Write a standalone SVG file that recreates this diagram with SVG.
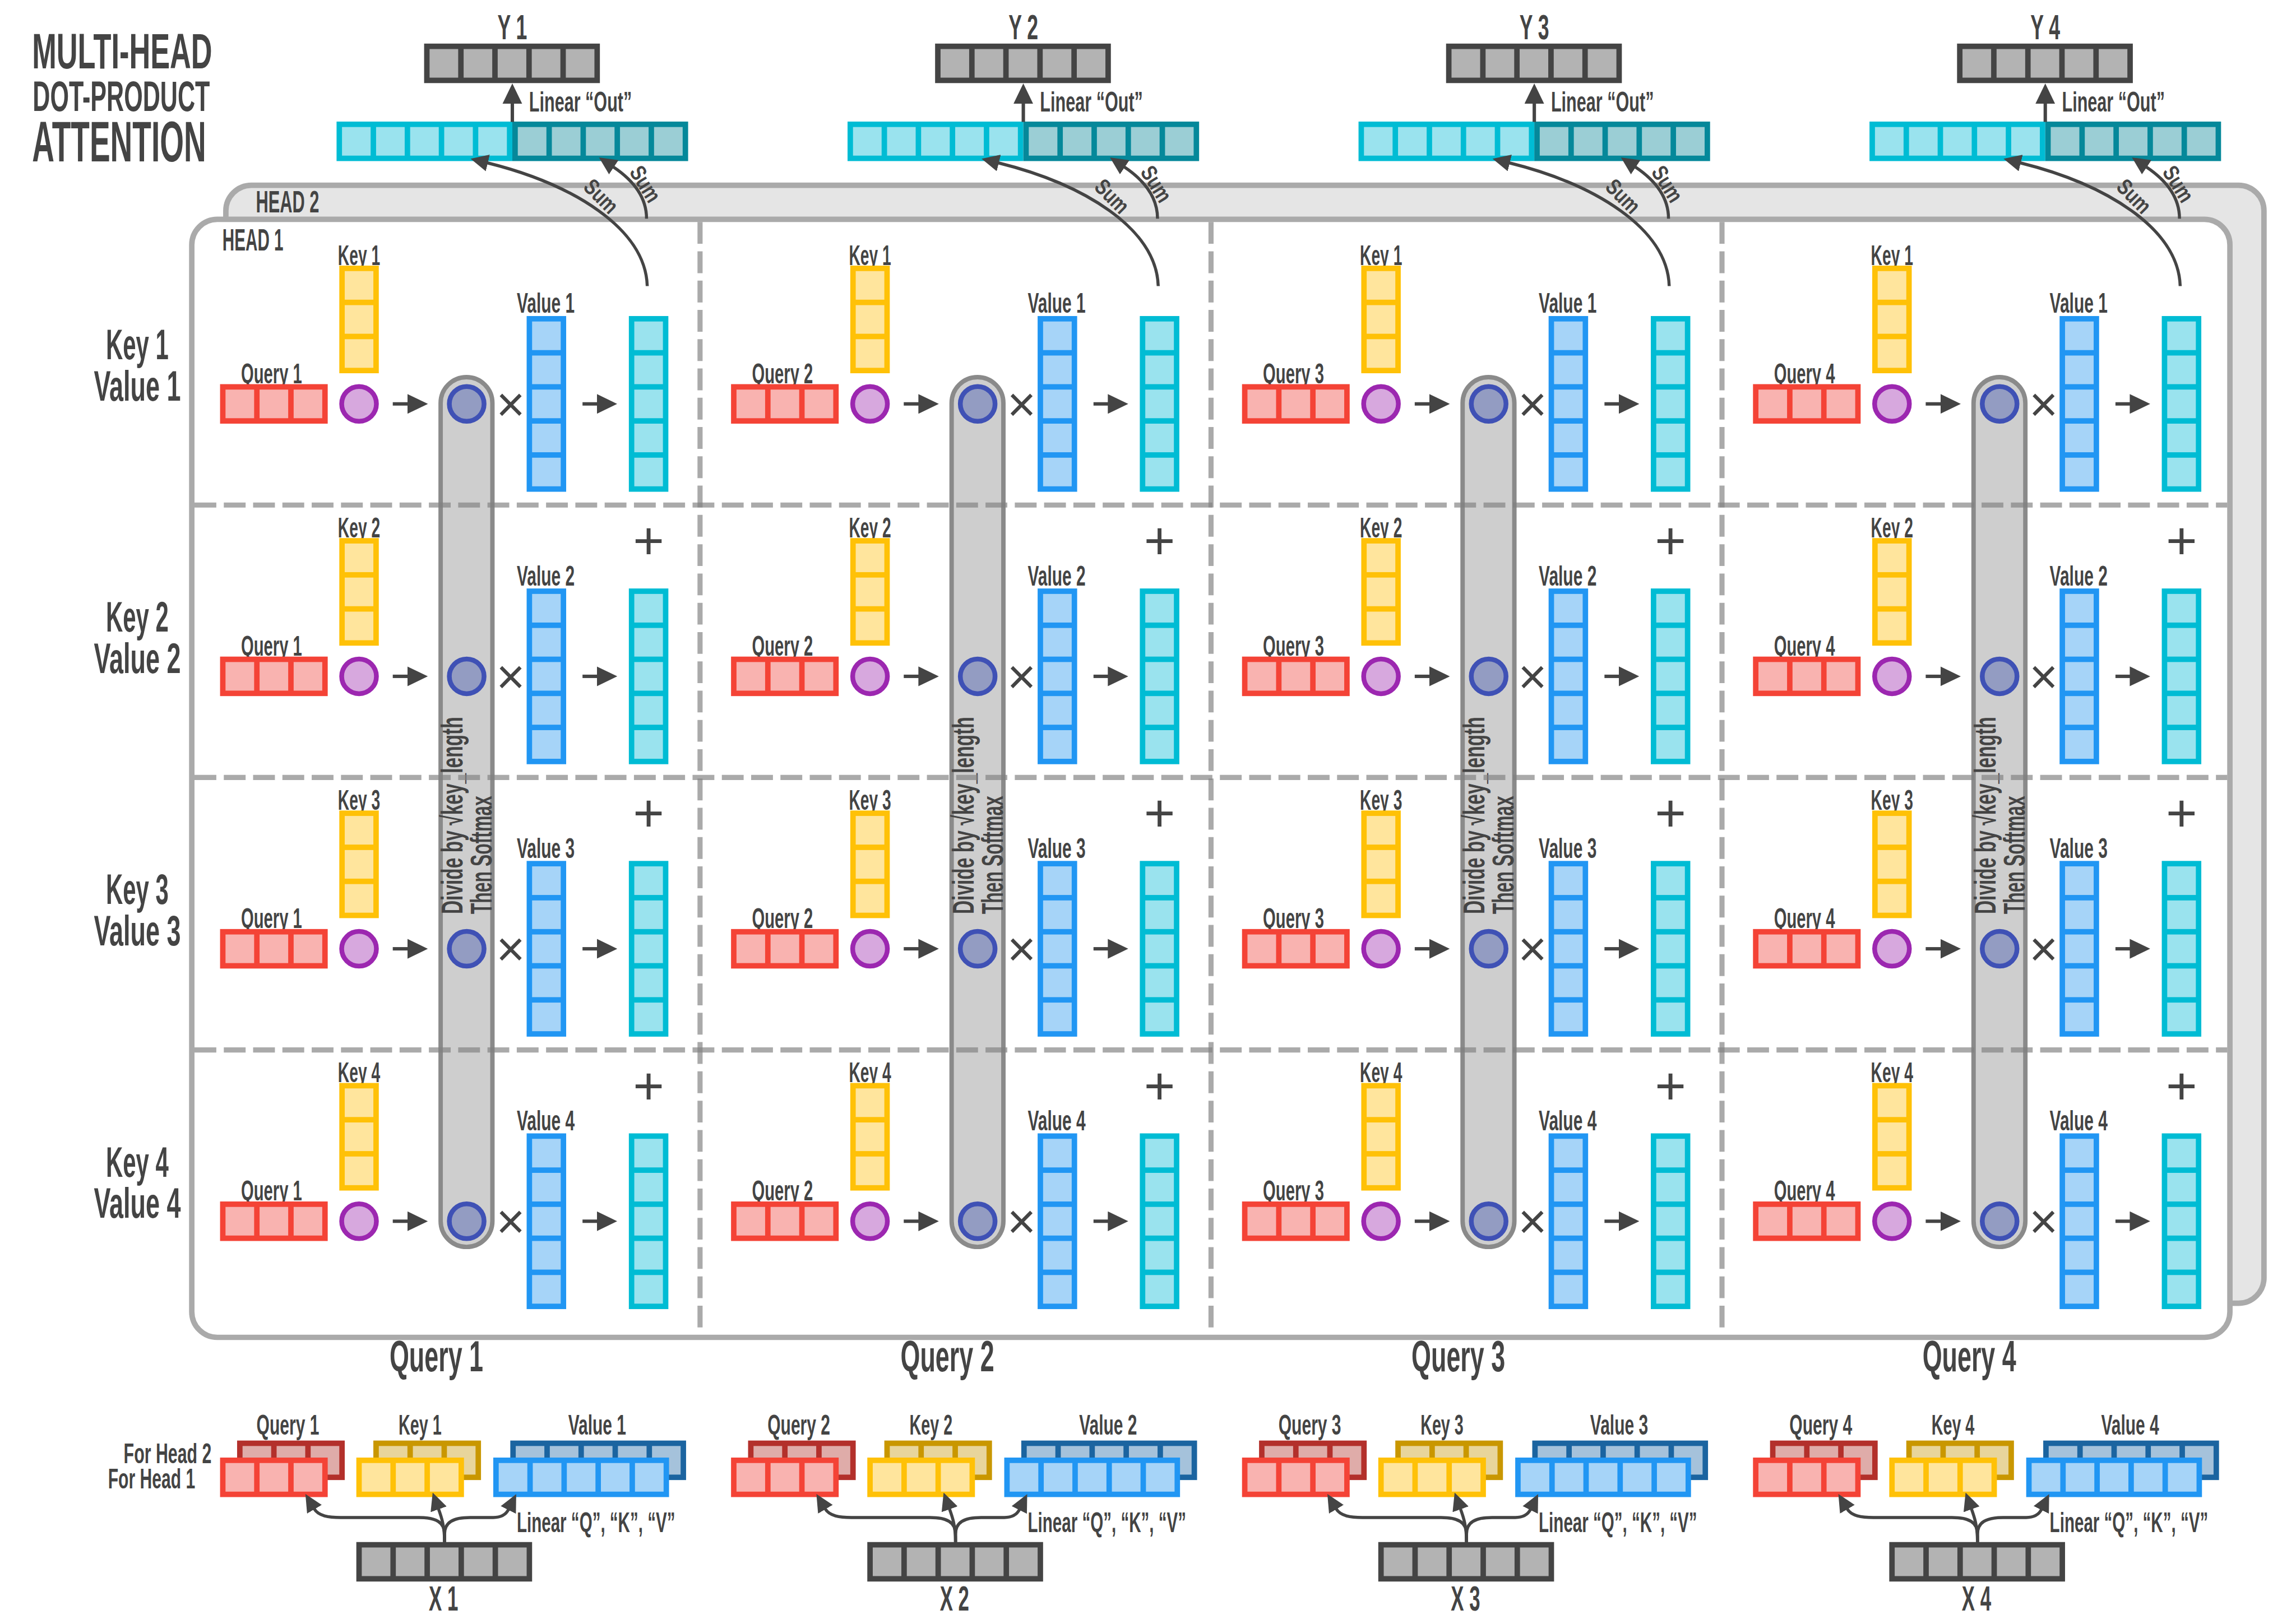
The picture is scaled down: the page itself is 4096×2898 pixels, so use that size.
<svg xmlns="http://www.w3.org/2000/svg" width="4096" height="2898" viewBox="0 0 4096 2898">
<style>
.t{font-family:"Liberation Sans",Arial,Helvetica,sans-serif;font-weight:700;fill:#444}
.m{text-anchor:middle}
.e{text-anchor:end}
.s{font-size:83px}
.xy{font-size:103px}
.rl{font-size:125px}
.cl{font-size:128px}
.hd{font-size:92px}
.dv{font-size:87px}
.sm{font-size:66px}
.op{font-family:"Liberation Sans",Arial,sans-serif;font-weight:400;fill:#444;text-anchor:middle}
.red{fill:#f9b3b0;color:#f44336}
.redb{fill:#dfaca9;color:#b3302b}
.yel{fill:#ffe59d;color:#ffc107}
.yelb{fill:#e8d59b;color:#c99700}
.blu{fill:#a6d4f8;color:#2196f3}
.blub{fill:#a5c2db;color:#1b64a0}
.cya{fill:#9ae3ee;color:#00bcd4}
.teal{fill:#9bced5;color:#05889a}
.gry{fill:#b3b3b3;color:#444}
.pur{fill:#d7a8de;color:#9c27b0}
.ind{fill:#939cc2;color:#3f51b5}
.pill{fill:#cecece;stroke:#8a8a8a;stroke-width:13}
.dash{fill:none;stroke:#808080;stroke-opacity:.67;stroke-width:15;stroke-dasharray:64 22}
.ar{fill:none;stroke:#444;stroke-width:10}
.cv{fill:none;stroke:#444;stroke-width:9}
</style>
<defs>
<g id="h3"><rect width="316" height="116" fill="currentColor"/><rect x="16" y="16" width="84" height="84"/><rect x="116" y="16" width="84" height="84"/><rect x="216" y="16" width="84" height="84"/></g>
<g id="h5"><rect width="516" height="116" fill="currentColor"/><rect x="16" y="16" width="84" height="84"/><rect x="116" y="16" width="84" height="84"/><rect x="216" y="16" width="84" height="84"/><rect x="316" y="16" width="84" height="84"/><rect x="416" y="16" width="84" height="84"/></g>
<g id="v3"><rect width="116" height="316" fill="currentColor"/><rect x="16" y="16" width="84" height="84"/><rect x="16" y="116" width="84" height="84"/><rect x="16" y="216" width="84" height="84"/></g>
<g id="v5"><rect width="116" height="516" fill="currentColor"/><rect x="16" y="16" width="84" height="84"/><rect x="16" y="116" width="84" height="84"/><rect x="16" y="216" width="84" height="84"/><rect x="16" y="316" width="84" height="84"/><rect x="16" y="416" width="84" height="84"/></g>
<circle id="dot" r="51" stroke="currentColor" stroke-width="14"/>
<marker id="ah" markerUnits="userSpaceOnUse" viewBox="0 0 60 58" markerWidth="60" markerHeight="58" refX="2" refY="29" orient="auto"><path d="M0,0 L60,29 L0,58 Z" fill="#444"/></marker>
<marker id="ahs" markerUnits="userSpaceOnUse" viewBox="0 0 52 50" markerWidth="52" markerHeight="50" refX="2" refY="25" orient="auto"><path d="M0,0 L52,25 L0,50 Z" fill="#444"/></marker>
</defs>
<rect width="4096" height="2898" fill="#fff"/>
<g transform="scale(0.607715)">

<g id="title">
<text class="t" x="94" y="201" font-size="147" textLength="529" lengthAdjust="spacingAndGlyphs">MULTI-HEAD</text>
<text class="t" x="96" y="326" font-size="124" textLength="520" lengthAdjust="spacingAndGlyphs">DOT-PRODUCT</text>
<text class="t" x="94" y="474" font-size="167" textLength="511" lengthAdjust="spacingAndGlyphs">ATTENTION</text>
</g>

<g id="outputs">
<g id="y1"><text class="t xy m" x="1504" y="116" textLength="87" lengthAdjust="spacingAndGlyphs">Y 1</text><use href="#h5" x="1245" y="128" class="gry"/></g>
<g id="y2"><text class="t xy m" x="3004" y="116" textLength="87" lengthAdjust="spacingAndGlyphs">Y 2</text><use href="#h5" x="2745" y="128" class="gry"/></g>
<g id="y3"><text class="t xy m" x="4504" y="116" textLength="87" lengthAdjust="spacingAndGlyphs">Y 3</text><use href="#h5" x="4245" y="128" class="gry"/></g>
<g id="y4"><text class="t xy m" x="6004" y="116" textLength="87" lengthAdjust="spacingAndGlyphs">Y 4</text><use href="#h5" x="5745" y="128" class="gry"/></g>
<g id="concat1"><use href="#h5" x="988" y="357" class="cya"/><use href="#h5" x="1504" y="357" class="teal"/></g>
<g id="concat2"><use href="#h5" x="2488" y="357" class="cya"/><use href="#h5" x="3004" y="357" class="teal"/></g>
<g id="concat3"><use href="#h5" x="3988" y="357" class="cya"/><use href="#h5" x="4504" y="357" class="teal"/></g>
<g id="concat4"><use href="#h5" x="5488" y="357" class="cya"/><use href="#h5" x="6004" y="357" class="teal"/></g>
</g>

<g id="head2">
<rect x="663" y="544" width="5983" height="3283" rx="75" fill="#e5e5e5" stroke="#aaa" stroke-width="16"/>
<text class="t hd" x="751" y="624" textLength="186" lengthAdjust="spacingAndGlyphs">HEAD 2</text>
</g>
<g id="head1">
<rect x="563" y="644" width="5983" height="3283" rx="75" fill="#fff" stroke="#aaa" stroke-width="16"/>
<text class="t hd" x="653" y="736" textLength="179" lengthAdjust="spacingAndGlyphs">HEAD 1</text>
</g>

<g id="softmax-q1">
<rect class="pill" x="1293.5" y="1107.5" width="152" height="2554" rx="76"/>
<text class="t dv" transform="translate(1358,2684) rotate(-90)" textLength="579" lengthAdjust="spacingAndGlyphs">Divide by √key_length</text>
<text class="t dv" transform="translate(1443,2684) rotate(-90)" textLength="347" lengthAdjust="spacingAndGlyphs">Then Softmax</text>
</g>
<g id="softmax-q2" transform="translate(1500,0)">
<rect class="pill" x="1293.5" y="1107.5" width="152" height="2554" rx="76"/>
<text class="t dv" transform="translate(1358,2684) rotate(-90)" textLength="579" lengthAdjust="spacingAndGlyphs">Divide by √key_length</text>
<text class="t dv" transform="translate(1443,2684) rotate(-90)" textLength="347" lengthAdjust="spacingAndGlyphs">Then Softmax</text>
</g>
<g id="softmax-q3" transform="translate(3000,0)">
<rect class="pill" x="1293.5" y="1107.5" width="152" height="2554" rx="76"/>
<text class="t dv" transform="translate(1358,2684) rotate(-90)" textLength="579" lengthAdjust="spacingAndGlyphs">Divide by √key_length</text>
<text class="t dv" transform="translate(1443,2684) rotate(-90)" textLength="347" lengthAdjust="spacingAndGlyphs">Then Softmax</text>
</g>
<g id="softmax-q4" transform="translate(4500,0)">
<rect class="pill" x="1293.5" y="1107.5" width="152" height="2554" rx="76"/>
<text class="t dv" transform="translate(1358,2684) rotate(-90)" textLength="579" lengthAdjust="spacingAndGlyphs">Divide by √key_length</text>
<text class="t dv" transform="translate(1443,2684) rotate(-90)" textLength="347" lengthAdjust="spacingAndGlyphs">Then Softmax</text>
</g>

<g id="grid">
<path class="dash" d="M571,1483H6538M571,2283H6538M571,3083H6538"/>
<path class="dash" d="M2055,652V3919M3555,652V3919M5055,652V3919"/>
</g>

<g id="rowlabels">
<text class="t rl m" x="403" y="1055" textLength="184" lengthAdjust="spacingAndGlyphs">Key 1</text>
<text class="t rl m" x="403" y="1176" textLength="255" lengthAdjust="spacingAndGlyphs">Value 1</text>
<text class="t rl m" x="403" y="1855" textLength="184" lengthAdjust="spacingAndGlyphs">Key 2</text>
<text class="t rl m" x="403" y="1976" textLength="255" lengthAdjust="spacingAndGlyphs">Value 2</text>
<text class="t rl m" x="403" y="2655" textLength="184" lengthAdjust="spacingAndGlyphs">Key 3</text>
<text class="t rl m" x="403" y="2776" textLength="255" lengthAdjust="spacingAndGlyphs">Value 3</text>
<text class="t rl m" x="403" y="3455" textLength="184" lengthAdjust="spacingAndGlyphs">Key 4</text>
<text class="t rl m" x="403" y="3576" textLength="255" lengthAdjust="spacingAndGlyphs">Value 4</text>
</g>

<g id="collabels">
<text class="t cl m" x="1281" y="4027" textLength="275" lengthAdjust="spacingAndGlyphs">Query 1</text>
<text class="t cl m" x="2781" y="4027" textLength="275" lengthAdjust="spacingAndGlyphs">Query 2</text>
<text class="t cl m" x="4281" y="4027" textLength="275" lengthAdjust="spacingAndGlyphs">Query 3</text>
<text class="t cl m" x="5781" y="4027" textLength="275" lengthAdjust="spacingAndGlyphs">Query 4</text>
</g>

<!-- Column 1 -->
<g id="attn-q1-k1" transform="translate(0,0)">
<text class="t s m" x="797" y="1125" textLength="179" lengthAdjust="spacingAndGlyphs">Query 1</text><use href="#h3" x="646" y="1128" class="red"/>
<text class="t s m" x="1054" y="778" textLength="124" lengthAdjust="spacingAndGlyphs">Key 1</text><use href="#v3" x="996" y="780" class="yel"/>
<use href="#dot" x="1054" y="1186" class="pur"/><use href="#dot" x="1370" y="1186" class="ind"/>
<text class="op" x="1499" y="1237" font-size="145">×</text>
<text class="t s m" x="1602" y="919" textLength="170" lengthAdjust="spacingAndGlyphs">Value 1</text><use href="#v5" x="1546" y="928" class="blu"/><use href="#v5" x="1846" y="928" class="cya"/>
</g>
<g id="attn-q1-k2" transform="translate(0,800)">
<text class="t s m" x="797" y="1125" textLength="179" lengthAdjust="spacingAndGlyphs">Query 1</text><use href="#h3" x="646" y="1128" class="red"/>
<text class="t s m" x="1054" y="778" textLength="124" lengthAdjust="spacingAndGlyphs">Key 2</text><use href="#v3" x="996" y="780" class="yel"/>
<use href="#dot" x="1054" y="1186" class="pur"/><use href="#dot" x="1370" y="1186" class="ind"/>
<text class="op" x="1499" y="1237" font-size="145">×</text>
<text class="t s m" x="1602" y="919" textLength="170" lengthAdjust="spacingAndGlyphs">Value 2</text><use href="#v5" x="1546" y="928" class="blu"/><use href="#v5" x="1846" y="928" class="cya"/>
<text class="op" x="1904" y="841" font-size="157">+</text>
</g>
<g id="attn-q1-k3" transform="translate(0,1600)">
<text class="t s m" x="797" y="1125" textLength="179" lengthAdjust="spacingAndGlyphs">Query 1</text><use href="#h3" x="646" y="1128" class="red"/>
<text class="t s m" x="1054" y="778" textLength="124" lengthAdjust="spacingAndGlyphs">Key 3</text><use href="#v3" x="996" y="780" class="yel"/>
<use href="#dot" x="1054" y="1186" class="pur"/><use href="#dot" x="1370" y="1186" class="ind"/>
<text class="op" x="1499" y="1237" font-size="145">×</text>
<text class="t s m" x="1602" y="919" textLength="170" lengthAdjust="spacingAndGlyphs">Value 3</text><use href="#v5" x="1546" y="928" class="blu"/><use href="#v5" x="1846" y="928" class="cya"/>
<text class="op" x="1904" y="841" font-size="157">+</text>
</g>
<g id="attn-q1-k4" transform="translate(0,2400)">
<text class="t s m" x="797" y="1125" textLength="179" lengthAdjust="spacingAndGlyphs">Query 1</text><use href="#h3" x="646" y="1128" class="red"/>
<text class="t s m" x="1054" y="778" textLength="124" lengthAdjust="spacingAndGlyphs">Key 4</text><use href="#v3" x="996" y="780" class="yel"/>
<use href="#dot" x="1054" y="1186" class="pur"/><use href="#dot" x="1370" y="1186" class="ind"/>
<text class="op" x="1499" y="1237" font-size="145">×</text>
<text class="t s m" x="1602" y="919" textLength="170" lengthAdjust="spacingAndGlyphs">Value 4</text><use href="#v5" x="1546" y="928" class="blu"/><use href="#v5" x="1846" y="928" class="cya"/>
<text class="op" x="1904" y="841" font-size="157">+</text>
</g>

<!-- Column 2 -->
<g id="attn-q2-k1" transform="translate(1500,0)">
<text class="t s m" x="797" y="1125" textLength="179" lengthAdjust="spacingAndGlyphs">Query 2</text><use href="#h3" x="646" y="1128" class="red"/>
<text class="t s m" x="1054" y="778" textLength="124" lengthAdjust="spacingAndGlyphs">Key 1</text><use href="#v3" x="996" y="780" class="yel"/>
<use href="#dot" x="1054" y="1186" class="pur"/><use href="#dot" x="1370" y="1186" class="ind"/>
<text class="op" x="1499" y="1237" font-size="145">×</text>
<text class="t s m" x="1602" y="919" textLength="170" lengthAdjust="spacingAndGlyphs">Value 1</text><use href="#v5" x="1546" y="928" class="blu"/><use href="#v5" x="1846" y="928" class="cya"/>
</g>
<g id="attn-q2-k2" transform="translate(1500,800)">
<text class="t s m" x="797" y="1125" textLength="179" lengthAdjust="spacingAndGlyphs">Query 2</text><use href="#h3" x="646" y="1128" class="red"/>
<text class="t s m" x="1054" y="778" textLength="124" lengthAdjust="spacingAndGlyphs">Key 2</text><use href="#v3" x="996" y="780" class="yel"/>
<use href="#dot" x="1054" y="1186" class="pur"/><use href="#dot" x="1370" y="1186" class="ind"/>
<text class="op" x="1499" y="1237" font-size="145">×</text>
<text class="t s m" x="1602" y="919" textLength="170" lengthAdjust="spacingAndGlyphs">Value 2</text><use href="#v5" x="1546" y="928" class="blu"/><use href="#v5" x="1846" y="928" class="cya"/>
<text class="op" x="1904" y="841" font-size="157">+</text>
</g>
<g id="attn-q2-k3" transform="translate(1500,1600)">
<text class="t s m" x="797" y="1125" textLength="179" lengthAdjust="spacingAndGlyphs">Query 2</text><use href="#h3" x="646" y="1128" class="red"/>
<text class="t s m" x="1054" y="778" textLength="124" lengthAdjust="spacingAndGlyphs">Key 3</text><use href="#v3" x="996" y="780" class="yel"/>
<use href="#dot" x="1054" y="1186" class="pur"/><use href="#dot" x="1370" y="1186" class="ind"/>
<text class="op" x="1499" y="1237" font-size="145">×</text>
<text class="t s m" x="1602" y="919" textLength="170" lengthAdjust="spacingAndGlyphs">Value 3</text><use href="#v5" x="1546" y="928" class="blu"/><use href="#v5" x="1846" y="928" class="cya"/>
<text class="op" x="1904" y="841" font-size="157">+</text>
</g>
<g id="attn-q2-k4" transform="translate(1500,2400)">
<text class="t s m" x="797" y="1125" textLength="179" lengthAdjust="spacingAndGlyphs">Query 2</text><use href="#h3" x="646" y="1128" class="red"/>
<text class="t s m" x="1054" y="778" textLength="124" lengthAdjust="spacingAndGlyphs">Key 4</text><use href="#v3" x="996" y="780" class="yel"/>
<use href="#dot" x="1054" y="1186" class="pur"/><use href="#dot" x="1370" y="1186" class="ind"/>
<text class="op" x="1499" y="1237" font-size="145">×</text>
<text class="t s m" x="1602" y="919" textLength="170" lengthAdjust="spacingAndGlyphs">Value 4</text><use href="#v5" x="1546" y="928" class="blu"/><use href="#v5" x="1846" y="928" class="cya"/>
<text class="op" x="1904" y="841" font-size="157">+</text>
</g>

<!-- Column 3 -->
<g id="attn-q3-k1" transform="translate(3000,0)">
<text class="t s m" x="797" y="1125" textLength="179" lengthAdjust="spacingAndGlyphs">Query 3</text><use href="#h3" x="646" y="1128" class="red"/>
<text class="t s m" x="1054" y="778" textLength="124" lengthAdjust="spacingAndGlyphs">Key 1</text><use href="#v3" x="996" y="780" class="yel"/>
<use href="#dot" x="1054" y="1186" class="pur"/><use href="#dot" x="1370" y="1186" class="ind"/>
<text class="op" x="1499" y="1237" font-size="145">×</text>
<text class="t s m" x="1602" y="919" textLength="170" lengthAdjust="spacingAndGlyphs">Value 1</text><use href="#v5" x="1546" y="928" class="blu"/><use href="#v5" x="1846" y="928" class="cya"/>
</g>
<g id="attn-q3-k2" transform="translate(3000,800)">
<text class="t s m" x="797" y="1125" textLength="179" lengthAdjust="spacingAndGlyphs">Query 3</text><use href="#h3" x="646" y="1128" class="red"/>
<text class="t s m" x="1054" y="778" textLength="124" lengthAdjust="spacingAndGlyphs">Key 2</text><use href="#v3" x="996" y="780" class="yel"/>
<use href="#dot" x="1054" y="1186" class="pur"/><use href="#dot" x="1370" y="1186" class="ind"/>
<text class="op" x="1499" y="1237" font-size="145">×</text>
<text class="t s m" x="1602" y="919" textLength="170" lengthAdjust="spacingAndGlyphs">Value 2</text><use href="#v5" x="1546" y="928" class="blu"/><use href="#v5" x="1846" y="928" class="cya"/>
<text class="op" x="1904" y="841" font-size="157">+</text>
</g>
<g id="attn-q3-k3" transform="translate(3000,1600)">
<text class="t s m" x="797" y="1125" textLength="179" lengthAdjust="spacingAndGlyphs">Query 3</text><use href="#h3" x="646" y="1128" class="red"/>
<text class="t s m" x="1054" y="778" textLength="124" lengthAdjust="spacingAndGlyphs">Key 3</text><use href="#v3" x="996" y="780" class="yel"/>
<use href="#dot" x="1054" y="1186" class="pur"/><use href="#dot" x="1370" y="1186" class="ind"/>
<text class="op" x="1499" y="1237" font-size="145">×</text>
<text class="t s m" x="1602" y="919" textLength="170" lengthAdjust="spacingAndGlyphs">Value 3</text><use href="#v5" x="1546" y="928" class="blu"/><use href="#v5" x="1846" y="928" class="cya"/>
<text class="op" x="1904" y="841" font-size="157">+</text>
</g>
<g id="attn-q3-k4" transform="translate(3000,2400)">
<text class="t s m" x="797" y="1125" textLength="179" lengthAdjust="spacingAndGlyphs">Query 3</text><use href="#h3" x="646" y="1128" class="red"/>
<text class="t s m" x="1054" y="778" textLength="124" lengthAdjust="spacingAndGlyphs">Key 4</text><use href="#v3" x="996" y="780" class="yel"/>
<use href="#dot" x="1054" y="1186" class="pur"/><use href="#dot" x="1370" y="1186" class="ind"/>
<text class="op" x="1499" y="1237" font-size="145">×</text>
<text class="t s m" x="1602" y="919" textLength="170" lengthAdjust="spacingAndGlyphs">Value 4</text><use href="#v5" x="1546" y="928" class="blu"/><use href="#v5" x="1846" y="928" class="cya"/>
<text class="op" x="1904" y="841" font-size="157">+</text>
</g>

<!-- Column 4 -->
<g id="attn-q4-k1" transform="translate(4500,0)">
<text class="t s m" x="797" y="1125" textLength="179" lengthAdjust="spacingAndGlyphs">Query 4</text><use href="#h3" x="646" y="1128" class="red"/>
<text class="t s m" x="1054" y="778" textLength="124" lengthAdjust="spacingAndGlyphs">Key 1</text><use href="#v3" x="996" y="780" class="yel"/>
<use href="#dot" x="1054" y="1186" class="pur"/><use href="#dot" x="1370" y="1186" class="ind"/>
<text class="op" x="1499" y="1237" font-size="145">×</text>
<text class="t s m" x="1602" y="919" textLength="170" lengthAdjust="spacingAndGlyphs">Value 1</text><use href="#v5" x="1546" y="928" class="blu"/><use href="#v5" x="1846" y="928" class="cya"/>
</g>
<g id="attn-q4-k2" transform="translate(4500,800)">
<text class="t s m" x="797" y="1125" textLength="179" lengthAdjust="spacingAndGlyphs">Query 4</text><use href="#h3" x="646" y="1128" class="red"/>
<text class="t s m" x="1054" y="778" textLength="124" lengthAdjust="spacingAndGlyphs">Key 2</text><use href="#v3" x="996" y="780" class="yel"/>
<use href="#dot" x="1054" y="1186" class="pur"/><use href="#dot" x="1370" y="1186" class="ind"/>
<text class="op" x="1499" y="1237" font-size="145">×</text>
<text class="t s m" x="1602" y="919" textLength="170" lengthAdjust="spacingAndGlyphs">Value 2</text><use href="#v5" x="1546" y="928" class="blu"/><use href="#v5" x="1846" y="928" class="cya"/>
<text class="op" x="1904" y="841" font-size="157">+</text>
</g>
<g id="attn-q4-k3" transform="translate(4500,1600)">
<text class="t s m" x="797" y="1125" textLength="179" lengthAdjust="spacingAndGlyphs">Query 4</text><use href="#h3" x="646" y="1128" class="red"/>
<text class="t s m" x="1054" y="778" textLength="124" lengthAdjust="spacingAndGlyphs">Key 3</text><use href="#v3" x="996" y="780" class="yel"/>
<use href="#dot" x="1054" y="1186" class="pur"/><use href="#dot" x="1370" y="1186" class="ind"/>
<text class="op" x="1499" y="1237" font-size="145">×</text>
<text class="t s m" x="1602" y="919" textLength="170" lengthAdjust="spacingAndGlyphs">Value 3</text><use href="#v5" x="1546" y="928" class="blu"/><use href="#v5" x="1846" y="928" class="cya"/>
<text class="op" x="1904" y="841" font-size="157">+</text>
</g>
<g id="attn-q4-k4" transform="translate(4500,2400)">
<text class="t s m" x="797" y="1125" textLength="179" lengthAdjust="spacingAndGlyphs">Query 4</text><use href="#h3" x="646" y="1128" class="red"/>
<text class="t s m" x="1054" y="778" textLength="124" lengthAdjust="spacingAndGlyphs">Key 4</text><use href="#v3" x="996" y="780" class="yel"/>
<use href="#dot" x="1054" y="1186" class="pur"/><use href="#dot" x="1370" y="1186" class="ind"/>
<text class="op" x="1499" y="1237" font-size="145">×</text>
<text class="t s m" x="1602" y="919" textLength="170" lengthAdjust="spacingAndGlyphs">Value 4</text><use href="#v5" x="1546" y="928" class="blu"/><use href="#v5" x="1846" y="928" class="cya"/>
<text class="op" x="1904" y="841" font-size="157">+</text>
</g>

<!-- Inputs -->
<g id="qkv1">
<text class="t s m" x="845" y="4213" textLength="184" lengthAdjust="spacingAndGlyphs">Query 1</text>
<text class="t s m" x="1233" y="4213" textLength="126" lengthAdjust="spacingAndGlyphs">Key 1</text>
<text class="t s m" x="1753" y="4213" textLength="170" lengthAdjust="spacingAndGlyphs">Value 1</text>
<text class="t s e" x="621" y="4297" textLength="258" lengthAdjust="spacingAndGlyphs">For Head 2</text>
<text class="t s e" x="573" y="4370" textLength="256" lengthAdjust="spacingAndGlyphs">For Head 1</text>
<use href="#h3" x="696" y="4230" class="redb"/><use href="#h3" x="646" y="4280" class="red"/>
<use href="#h3" x="1096" y="4230" class="yelb"/><use href="#h3" x="1046" y="4280" class="yel"/>
<use href="#h5" x="1498" y="4230" class="blub"/><use href="#h5" x="1448" y="4280" class="blu"/>
</g>
<g id="qkv2" transform="translate(1500,0)">
<text class="t s m" x="845" y="4213" textLength="184" lengthAdjust="spacingAndGlyphs">Query 2</text>
<text class="t s m" x="1233" y="4213" textLength="126" lengthAdjust="spacingAndGlyphs">Key 2</text>
<text class="t s m" x="1753" y="4213" textLength="170" lengthAdjust="spacingAndGlyphs">Value 2</text>
<use href="#h3" x="696" y="4230" class="redb"/><use href="#h3" x="646" y="4280" class="red"/>
<use href="#h3" x="1096" y="4230" class="yelb"/><use href="#h3" x="1046" y="4280" class="yel"/>
<use href="#h5" x="1498" y="4230" class="blub"/><use href="#h5" x="1448" y="4280" class="blu"/>
</g>
<g id="qkv3" transform="translate(3000,0)">
<text class="t s m" x="845" y="4213" textLength="184" lengthAdjust="spacingAndGlyphs">Query 3</text>
<text class="t s m" x="1233" y="4213" textLength="126" lengthAdjust="spacingAndGlyphs">Key 3</text>
<text class="t s m" x="1753" y="4213" textLength="170" lengthAdjust="spacingAndGlyphs">Value 3</text>
<use href="#h3" x="696" y="4230" class="redb"/><use href="#h3" x="646" y="4280" class="red"/>
<use href="#h3" x="1096" y="4230" class="yelb"/><use href="#h3" x="1046" y="4280" class="yel"/>
<use href="#h5" x="1498" y="4230" class="blub"/><use href="#h5" x="1448" y="4280" class="blu"/>
</g>
<g id="qkv4" transform="translate(4500,0)">
<text class="t s m" x="845" y="4213" textLength="184" lengthAdjust="spacingAndGlyphs">Query 4</text>
<text class="t s m" x="1233" y="4213" textLength="126" lengthAdjust="spacingAndGlyphs">Key 4</text>
<text class="t s m" x="1753" y="4213" textLength="170" lengthAdjust="spacingAndGlyphs">Value 4</text>
<use href="#h3" x="696" y="4230" class="redb"/><use href="#h3" x="646" y="4280" class="red"/>
<use href="#h3" x="1096" y="4230" class="yelb"/><use href="#h3" x="1046" y="4280" class="yel"/>
<use href="#h5" x="1498" y="4230" class="blub"/><use href="#h5" x="1448" y="4280" class="blu"/>
</g>
<g id="x1"><use href="#h5" x="1046" y="4528" class="gry"/><text class="t xy m" x="1302" y="4730" textLength="86" lengthAdjust="spacingAndGlyphs">X 1</text></g>
<g id="x2"><use href="#h5" x="2546" y="4528" class="gry"/><text class="t xy m" x="2802" y="4730" textLength="86" lengthAdjust="spacingAndGlyphs">X 2</text></g>
<g id="x3"><use href="#h5" x="4046" y="4528" class="gry"/><text class="t xy m" x="4302" y="4730" textLength="86" lengthAdjust="spacingAndGlyphs">X 3</text></g>
<g id="x4"><use href="#h5" x="5546" y="4528" class="gry"/><text class="t xy m" x="5802" y="4730" textLength="86" lengthAdjust="spacingAndGlyphs">X 4</text></g>

<g id="connectors">
<!-- in-cell arrows -->
<path class="ar" marker-end="url(#ah)" d="M1153,1186H1198"/><path class="ar" marker-end="url(#ah)" d="M1710,1186H1754"/>
<path class="ar" marker-end="url(#ah)" d="M1153,1986H1198"/><path class="ar" marker-end="url(#ah)" d="M1710,1986H1754"/>
<path class="ar" marker-end="url(#ah)" d="M1153,2786H1198"/><path class="ar" marker-end="url(#ah)" d="M1710,2786H1754"/>
<path class="ar" marker-end="url(#ah)" d="M1153,3586H1198"/><path class="ar" marker-end="url(#ah)" d="M1710,3586H1754"/>
<path class="ar" marker-end="url(#ah)" d="M2653,1186H2698"/><path class="ar" marker-end="url(#ah)" d="M3210,1186H3254"/>
<path class="ar" marker-end="url(#ah)" d="M2653,1986H2698"/><path class="ar" marker-end="url(#ah)" d="M3210,1986H3254"/>
<path class="ar" marker-end="url(#ah)" d="M2653,2786H2698"/><path class="ar" marker-end="url(#ah)" d="M3210,2786H3254"/>
<path class="ar" marker-end="url(#ah)" d="M2653,3586H2698"/><path class="ar" marker-end="url(#ah)" d="M3210,3586H3254"/>
<path class="ar" marker-end="url(#ah)" d="M4153,1186H4198"/><path class="ar" marker-end="url(#ah)" d="M4710,1186H4754"/>
<path class="ar" marker-end="url(#ah)" d="M4153,1986H4198"/><path class="ar" marker-end="url(#ah)" d="M4710,1986H4754"/>
<path class="ar" marker-end="url(#ah)" d="M4153,2786H4198"/><path class="ar" marker-end="url(#ah)" d="M4710,2786H4754"/>
<path class="ar" marker-end="url(#ah)" d="M4153,3586H4198"/><path class="ar" marker-end="url(#ah)" d="M4710,3586H4754"/>
<path class="ar" marker-end="url(#ah)" d="M5653,1186H5698"/><path class="ar" marker-end="url(#ah)" d="M6210,1186H6254"/>
<path class="ar" marker-end="url(#ah)" d="M5653,1986H5698"/><path class="ar" marker-end="url(#ah)" d="M6210,1986H6254"/>
<path class="ar" marker-end="url(#ah)" d="M5653,2786H5698"/><path class="ar" marker-end="url(#ah)" d="M6210,2786H6254"/>
<path class="ar" marker-end="url(#ah)" d="M5653,3586H5698"/><path class="ar" marker-end="url(#ah)" d="M6210,3586H6254"/>
<!-- linear out -->
<path class="ar" marker-end="url(#ah)" d="M1504,358V303"/>
<path class="ar" marker-end="url(#ah)" d="M3004,358V303"/>
<path class="ar" marker-end="url(#ah)" d="M4504,358V303"/>
<path class="ar" marker-end="url(#ah)" d="M6004,358V303"/>
<text class="t s" x="1553" y="328" textLength="302" lengthAdjust="spacingAndGlyphs">Linear “Out”</text>
<text class="t s" x="3053" y="328" textLength="302" lengthAdjust="spacingAndGlyphs">Linear “Out”</text>
<text class="t s" x="4553" y="328" textLength="302" lengthAdjust="spacingAndGlyphs">Linear “Out”</text>
<text class="t s" x="6053" y="328" textLength="302" lengthAdjust="spacingAndGlyphs">Linear “Out”</text>
<!-- sum curves -->
<path class="cv" marker-end="url(#ahs)" d="M1900,840C1895,670 1680,540 1430,478"/>
<path class="cv" marker-end="url(#ahs)" d="M1898,642C1898,580 1860,530 1800,490"/>
<path class="cv" marker-end="url(#ahs)" d="M3400,840C3395,670 3180,540 2930,478"/>
<path class="cv" marker-end="url(#ahs)" d="M3398,642C3398,580 3360,530 3300,490"/>
<path class="cv" marker-end="url(#ahs)" d="M4900,840C4895,670 4680,540 4430,478"/>
<path class="cv" marker-end="url(#ahs)" d="M4898,642C4898,580 4860,530 4800,490"/>
<path class="cv" marker-end="url(#ahs)" d="M6400,840C6395,670 6180,540 5930,478"/>
<path class="cv" marker-end="url(#ahs)" d="M6398,642C6398,580 6360,530 6300,490"/>
<text class="t sm m" transform="translate(1765,576) rotate(45)" y="23" textLength="112" lengthAdjust="spacingAndGlyphs">Sum</text>
<text class="t sm m" transform="translate(1895,540) rotate(58)" y="23" textLength="112" lengthAdjust="spacingAndGlyphs">Sum</text>
<text class="t sm m" transform="translate(3265,576) rotate(45)" y="23" textLength="112" lengthAdjust="spacingAndGlyphs">Sum</text>
<text class="t sm m" transform="translate(3395,540) rotate(58)" y="23" textLength="112" lengthAdjust="spacingAndGlyphs">Sum</text>
<text class="t sm m" transform="translate(4765,576) rotate(45)" y="23" textLength="112" lengthAdjust="spacingAndGlyphs">Sum</text>
<text class="t sm m" transform="translate(4895,540) rotate(58)" y="23" textLength="112" lengthAdjust="spacingAndGlyphs">Sum</text>
<text class="t sm m" transform="translate(6265,576) rotate(45)" y="23" textLength="112" lengthAdjust="spacingAndGlyphs">Sum</text>
<text class="t sm m" transform="translate(6395,540) rotate(58)" y="23" textLength="112" lengthAdjust="spacingAndGlyphs">Sum</text>
<!-- linear QKV -->
<path class="cv" marker-end="url(#ahs)" d="M1305,4528V4505C1305,4470 1280,4456 1230,4456H1000C965,4456 935,4452 922,4430"/>
<path class="cv" marker-end="url(#ahs)" d="M1305,4528C1305,4480 1296,4455 1287,4430"/>
<path class="cv" marker-end="url(#ahs)" d="M1305,4528V4505C1305,4470 1330,4456 1380,4456H1448C1470,4456 1485,4448 1493,4432"/>
<path class="cv" marker-end="url(#ahs)" d="M2805,4528V4505C2805,4470 2780,4456 2730,4456H2500C2465,4456 2435,4452 2422,4430"/>
<path class="cv" marker-end="url(#ahs)" d="M2805,4528C2805,4480 2796,4455 2787,4430"/>
<path class="cv" marker-end="url(#ahs)" d="M2805,4528V4505C2805,4470 2830,4456 2880,4456H2948C2970,4456 2985,4448 2993,4432"/>
<path class="cv" marker-end="url(#ahs)" d="M4305,4528V4505C4305,4470 4280,4456 4230,4456H4000C3965,4456 3935,4452 3922,4430"/>
<path class="cv" marker-end="url(#ahs)" d="M4305,4528C4305,4480 4296,4455 4287,4430"/>
<path class="cv" marker-end="url(#ahs)" d="M4305,4528V4505C4305,4470 4330,4456 4380,4456H4448C4470,4456 4485,4448 4493,4432"/>
<path class="cv" marker-end="url(#ahs)" d="M5805,4528V4505C5805,4470 5780,4456 5730,4456H5500C5465,4456 5435,4452 5422,4430"/>
<path class="cv" marker-end="url(#ahs)" d="M5805,4528C5805,4480 5796,4455 5787,4430"/>
<path class="cv" marker-end="url(#ahs)" d="M5805,4528V4505C5805,4470 5830,4456 5880,4456H5948C5970,4456 5985,4448 5993,4432"/>
<text class="t s" x="1517" y="4499" textLength="465" lengthAdjust="spacingAndGlyphs">Linear “Q”, “K”, “V”</text>
<text class="t s" x="3017" y="4499" textLength="465" lengthAdjust="spacingAndGlyphs">Linear “Q”, “K”, “V”</text>
<text class="t s" x="4517" y="4499" textLength="465" lengthAdjust="spacingAndGlyphs">Linear “Q”, “K”, “V”</text>
<text class="t s" x="6017" y="4499" textLength="465" lengthAdjust="spacingAndGlyphs">Linear “Q”, “K”, “V”</text>
</g>
</g>
</svg>
